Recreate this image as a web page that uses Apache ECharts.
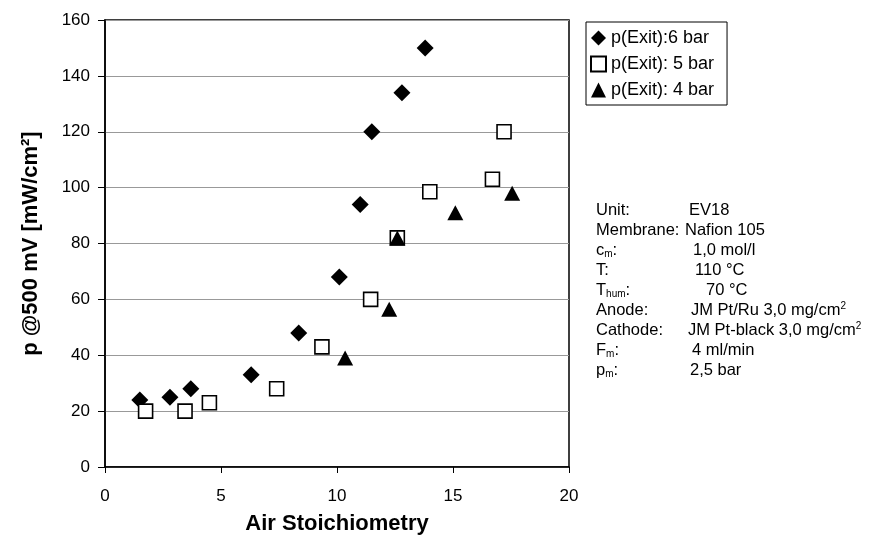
<!DOCTYPE html>
<html>
<head>
<meta charset="utf-8">
<script src="https://cdn.jsdelivr.net/npm/echarts@6/dist/echarts.min.js"></script>
<style>
  html, body { margin: 0; padding: 0; background: #fff; }
  #chart { width: 869px; height: 537px; }
</style>
</head>
<body>
<div id="chart"></div>
<script>
// p(Exit) 6 bar
var exit6 = [[1.5, 24], [2.8, 25], [3.7, 28], [6.3, 33], [8.35, 48], [10.1, 68],
             [11.0, 94], [11.5, 120], [12.8, 134], [13.8, 150]];
// p(Exit) 5 bar
var exit5 = [[1.75, 20], [3.45, 20], [4.5, 23], [7.4, 28], [9.35, 43], [11.45, 60],
             [12.6, 82], [14.0, 98.5], [16.7, 103], [17.2, 120]];
// p(Exit) 4 bar
var exit4 = [[10.35, 39], [12.25, 56.5], [12.6, 82], [15.1, 91], [17.55, 98]];

var seriesNames = ['p(Exit):6 bar', 'p(Exit): 5 bar', 'p(Exit): 4 bar'];

// Versuchsbedingungen
var condLabels = ['Unit:', 'Membrane:', 'c{s|m}:', 'T:', 'T{s|hum}:', 'Anode:', 'Cathode:', 'F{s|m}:', 'p{s|m}:'];
var condValues = ['EV18', 'Nafion 105', '1,0 mol/l', '110 °C', '70 °C',
                  'JM Pt/Ru 3,0 mg/cm{u|2}', 'JM Pt-black 3,0 mg/cm{u|2}', '4 ml/min', '2,5 bar'];
var condValueX = [689, 685, 693, 695, 706, 691, 688, 692, 690];

var font = 'Liberation Sans, Arial, sans-serif';

var graphics = [];
condLabels.forEach(function (lab, i) {
    var y = 210 + i * 20;
    var rich = {
        s: { fontSize: 10, fontFamily: font, fill: '#000', lineHeight: 18, verticalAlign: 'bottom' },
        u: { fontSize: 10, fontFamily: font, fill: '#000', lineHeight: 18, verticalAlign: 'top' }
    };
    [[596, lab], [condValueX[i], condValues[i]]].forEach(function (p) {
        graphics.push({
            type: 'text', x: p[0], y: y,
            style: {
                text: p[1], fontSize: 16.5, fontFamily: font, fill: '#000',
                lineHeight: 18, verticalAlign: 'middle', rich: rich
            }
        });
    });
});

var option = {
    backgroundColor: '#fff',
    animation: false,
    grid: {
        left: 105, top: 20, width: 464, height: 447, outerBoundsMode: 'none',
        show: true, borderColor: '#000', borderWidth: 1.5
    },
    legend: {
        orient: 'vertical',
        left: 586, top: 22,
        padding: [7, 13, 6, 4],
        itemGap: 8,
        itemWidth: 15, itemHeight: 15,
        borderColor: '#000', borderWidth: 1,
        textStyle: { fontSize: 18, fontFamily: font, color: '#000' },
        data: seriesNames
    },
    xAxis: {
        type: 'value', min: 0, max: 20, interval: 5,
        name: 'Air Stoichiometry', nameLocation: 'middle', nameGap: 46,
        nameTextStyle: { fontSize: 22, fontWeight: 'bold', fontFamily: font, color: '#000' },
        axisLine: { lineStyle: { color: '#000', width: 1.5 } },
        axisTick: { show: true, inside: false, length: 6, lineStyle: { color: '#000' } },
        axisLabel: { fontSize: 17, fontFamily: font, color: '#000', margin: 21 },
        splitLine: { show: false }
    },
    yAxis: {
        type: 'value', min: 0, max: 160, interval: 20,
        name: 'p @500 mV [mW/cm²]', nameLocation: 'middle', nameGap: 63, nameRotate: 90,
        nameTextStyle: { fontSize: 22, fontWeight: 'bold', fontFamily: font, color: '#000' },
        axisLine: { lineStyle: { color: '#000', width: 1.5 } },
        axisTick: { show: true, inside: false, length: 7, lineStyle: { color: '#000' } },
        axisLabel: { fontSize: 17, fontFamily: font, color: '#000', margin: 15 },
        splitLine: { show: true, lineStyle: { color: '#999', width: 1 } }
    },
    series: [
        {
            name: seriesNames[0], type: 'scatter', data: exit6,
            symbol: 'diamond', symbolSize: 17,
            itemStyle: { color: '#000', opacity: 1 }
        },
        {
            name: seriesNames[1], type: 'scatter', data: exit5,
            symbol: 'rect', symbolSize: 14,
            itemStyle: { color: '#fff', borderColor: '#000', borderWidth: 1.6, opacity: 1 }
        },
        {
            name: seriesNames[2], type: 'scatter', data: exit4,
            symbol: 'triangle', symbolSize: [16, 15],
            itemStyle: { color: '#000', opacity: 1 }
        }
    ],
    graphic: graphics
};

var myChart = echarts.init(document.getElementById('chart'));
myChart.setOption(option);
</script>
</body>
</html>
